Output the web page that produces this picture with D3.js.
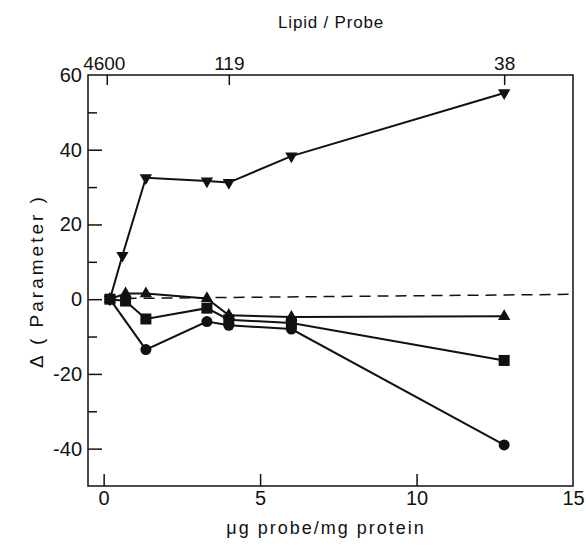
<!DOCTYPE html>
<html>
<head>
<meta charset="utf-8">
<script src="https://cdn.jsdelivr.net/npm/d3@7"></script>
<style>
  html, body { margin: 0; padding: 0; background: #fff; }
  svg { display: block; }
  text { font-family: "Liberation Sans", Arial, sans-serif; fill: #111; }
</style>
</head>
<body>
<svg id="chart" width="586" height="552"></svg>
<script>
// ---- data ----
const xCircle = [0.2, 1.35, 3.3, 4.0, 6.0, 12.8];
const circleValues = [0, -13.5, -6.0, -7.0, -8.0, -39.0];

const xSquare = [0.2, 0.7, 1.35, 3.3, 4.0, 6.0, 12.8];
const squareValues = [0, -0.5, -5.3, -2.4, -5.5, -6.4, -16.4];

const xUp = [0.2, 0.7, 1.35, 3.3, 4.0, 6.0, 12.8];
const upValues = [0, 1.5, 1.5, 0.2, -4.3, -4.8, -4.6];

const xDown = [0.2, 0.6, 1.35, 3.3, 4.0, 6.0, 12.8];
const downValues = [0, 11.7, 32.5, 31.6, 31.2, 38.3, 55.2];

const referenceX = [0.7, 15];
const referenceY = [0.2, 1.3];

const bottomTicks = [0, 5, 10, 15];
const leftMajorTicks = [-40, -20, 0, 20, 40, 60];
const leftMinorTicks = [-30, -10, 10, 30, 50];
const topTickPositions = [0.1, 4.0, 12.8];
const topTickLabels = ["4600", "119", "38"];

// ---- layout ----
const NUMFONT = "'Liberation Sans', Arial, sans-serif";
const TITLEFONT = "'DejaVu Sans', 'Liberation Sans', Arial, sans-serif";
const svg = d3.select("#chart");
const L = 88, R = 573, T = 75, B = 486;
const x = d3.scaleLinear().domain([-0.5, 15]).range([L, R]);
const y = d3.scaleLinear().domain([-50, 60]).range([B, T]);

// frame
svg.append("rect")
  .attr("x", L).attr("y", T).attr("width", R - L).attr("height", B - T)
  .attr("fill", "none").attr("stroke", "#111").attr("stroke-width", 1.5);

// left axis (ticks inward, labels outside)
const leftAxis = d3.axisLeft(y).tickValues(leftMajorTicks).tickSize(-14).tickPadding(6)
  .tickFormat(d => d < 0 ? "-" + Math.abs(d) : d);
const gL = svg.append("g").attr("transform", `translate(${L},0)`).call(leftAxis);
gL.select(".domain").remove();
gL.selectAll(".tick line").attr("stroke", "#111").attr("stroke-width", 1.5);
gL.selectAll(".tick").filter(d => d === 60).select("line").remove();
gL.selectAll(".tick text").attr("font-size", 20).attr("fill", "#111")
  .attr("font-family", NUMFONT);

const leftMinor = d3.axisLeft(y).tickValues(leftMinorTicks).tickSize(-9).tickFormat("");
const gLm = svg.append("g").attr("transform", `translate(${L},0)`).call(leftMinor);
gLm.select(".domain").remove();
gLm.selectAll(".tick line").attr("stroke", "#111").attr("stroke-width", 1.5);

// bottom axis
const bottomAxis = d3.axisBottom(x).tickValues(bottomTicks).tickSize(-12).tickPadding(5);
const gB = svg.append("g").attr("transform", `translate(0,${B})`).call(bottomAxis);
gB.select(".domain").remove();
gB.selectAll(".tick line").attr("stroke", "#111").attr("stroke-width", 1.5);
gB.selectAll(".tick").filter(d => d === 15).select("line").remove();
gB.selectAll(".tick text").attr("font-size", 20).attr("fill", "#111")
  .attr("font-family", NUMFONT);

// top axis
const topAxis = d3.axisTop(x).tickValues(topTickPositions).tickSize(-10).tickPadding(5)
  .tickFormat((d, i) => topTickLabels[i]);
const gT = svg.append("g").attr("transform", `translate(0,${T})`).call(topAxis);
gT.select(".domain").remove();
gT.selectAll(".tick line").attr("stroke", "#111").attr("stroke-width", 1.5);
gT.selectAll(".tick text").attr("font-size", 19).attr("fill", "#111")
  .attr("font-family", NUMFONT);
gT.selectAll(".tick").filter((d, i) => i === 0).select("text").attr("dx", -3);

// axis titles
svg.append("text").attr("x", 331).attr("y", 28).attr("text-anchor", "middle")
  .attr("font-family", NUMFONT)
  .attr("font-size", 17).attr("letter-spacing", 0.8).text("Lipid / Probe");
svg.append("text").attr("x", 326).attr("y", 534).attr("text-anchor", "middle")
  .attr("font-family", TITLEFONT)
  .attr("font-size", 18).attr("letter-spacing", 2).text("μg probe/mg protein");
svg.append("text").attr("transform", "translate(43,281) rotate(-90)")
  .attr("font-family", TITLEFONT)
  .attr("text-anchor", "middle").attr("font-size", 19).attr("letter-spacing", 3)
  .text("Δ ( Parameter )");

// reference dashed line
const refPts = referenceX.map((v, i) => [v, referenceY[i]]);
svg.append("path")
  .attr("d", d3.line().x(d => x(d[0])).y(d => y(d[1]))(refPts))
  .attr("fill", "none").attr("stroke", "#111").attr("stroke-width", 1.5)
  .attr("stroke-dasharray", "11,7");

// series
const series = [
  { xs: xDown, ys: downValues, sym: "down" },
  { xs: xUp, ys: upValues, sym: "up" },
  { xs: xSquare, ys: squareValues, sym: "square" },
  { xs: xCircle, ys: circleValues, sym: "circle" }
];

const line = d3.line().x(d => x(d[0])).y(d => y(d[1]));
series.forEach(s => {
  const pts = s.xs.map((v, i) => [v, s.ys[i]]);
  svg.append("path").attr("d", line(pts))
    .attr("fill", "none").attr("stroke", "#111").attr("stroke-width", 2);
});

const triUp = d3.symbol().type(d3.symbolTriangle).size(66);
series.forEach(s => {
  const pts = s.xs.map((v, i) => [v, s.ys[i]]);
  const g = svg.append("g");
  pts.forEach(p => {
    const cx = x(p[0]), cy = y(p[1]);
    if (s.sym === "circle") {
      g.append("circle").attr("cx", cx).attr("cy", cy).attr("r", 5.5).attr("fill", "#111");
    } else if (s.sym === "square") {
      g.append("rect").attr("x", cx - 5.5).attr("y", cy - 5.5).attr("width", 11).attr("height", 11).attr("fill", "#111");
    } else if (s.sym === "up") {
      g.append("path").attr("d", triUp()).attr("transform", `translate(${cx},${cy})`).attr("fill", "#111");
    } else {
      g.append("path").attr("d", triUp()).attr("transform", `translate(${cx},${cy}) rotate(180)`).attr("fill", "#111");
    }
  });
});
</script>
</body>
</html>
